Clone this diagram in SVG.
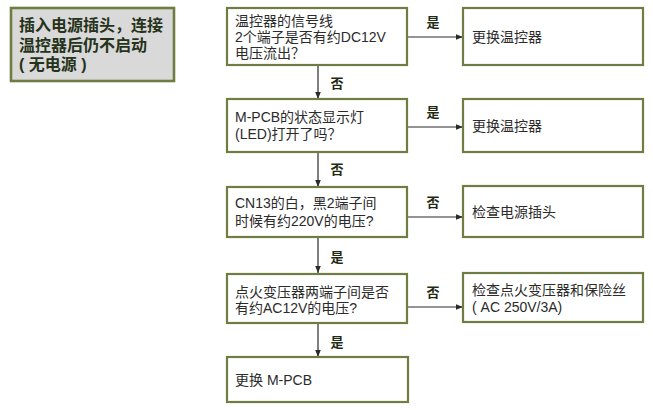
<svg xmlns="http://www.w3.org/2000/svg" width="653" height="410" viewBox="0 0 653 410">
<style>
.box{fill:#ffffff;stroke:#6f7d42;stroke-width:2.2}
.start{fill:#d9d9d9;stroke:#6f7d42;stroke-width:2.6}
.t{font-family:"Liberation Sans","Noto Sans CJK SC",sans-serif;font-size:14px;fill:#2b2b2b}
.ts{font-family:"Liberation Sans","Noto Sans CJK SC",sans-serif;font-size:16px;font-weight:bold;fill:#26331a}
.lbl{font-family:"Liberation Sans","Noto Sans CJK SC",sans-serif;font-size:13px;font-weight:bold;fill:#1f2a12;text-anchor:middle}
.c{stroke:#2b2b2b;stroke-width:1.2;fill:none;marker-end:url(#ah)}
</style>
<defs>
<marker id="ah" viewBox="0 0 10 10" refX="10" refY="5" markerWidth="7" markerHeight="7" markerUnits="userSpaceOnUse" orient="auto">
<path d="M0,1 L10,5 L0,9 z" fill="#2b2b2b"/>
</marker>
</defs>
<rect width="653" height="410" fill="#ffffff"/>
<g id="start">
<rect class="start" x="11" y="8" width="163" height="73"/>
<text class="ts" x="19" y="31">插入电源插头，连接<tspan x="19" dy="20">温控器后仍不启动</tspan><tspan x="19" dy="19">( 无电源 )</tspan></text>
</g>
<g id="connectors">
<line class="c" x1="407" y1="37" x2="463" y2="37"/>
<line class="c" x1="318" y1="65" x2="318" y2="99"/>
<line class="c" x1="407" y1="127" x2="463" y2="127"/>
<line class="c" x1="318" y1="152" x2="318" y2="187"/>
<line class="c" x1="407" y1="217" x2="463" y2="217"/>
<line class="c" x1="318" y1="237" x2="318" y2="273"/>
<line class="c" x1="407" y1="307" x2="463" y2="307"/>
<line class="c" x1="318" y1="323" x2="318" y2="357"/>
<text class="lbl" x="433" y="27">是</text>
<text class="lbl" x="337" y="88">否</text>
<text class="lbl" x="433" y="117">是</text>
<text class="lbl" x="337" y="174">否</text>
<text class="lbl" x="433" y="207">否</text>
<text class="lbl" x="337" y="262">是</text>
<text class="lbl" x="433" y="297">否</text>
<text class="lbl" x="337" y="347">是</text>
</g>
<g id="q1">
<rect class="box" x="227" y="8" width="180" height="57"/>
<text class="t" x="235" y="26">温控器的信号线<tspan x="235" dy="16">2个端子是否有约DC12V</tspan><tspan x="235" dy="16">电压流出？</tspan></text>
</g>
<g id="a1">
<rect class="box" x="463" y="8" width="180" height="57"/>
<text class="t" x="472" y="42">更换温控器</text>
</g>
<g id="q2">
<rect class="box" x="227" y="99" width="180" height="53"/>
<text class="t" x="235" y="122">M-PCB的状态显示灯<tspan x="235" dy="17">(LED)打开了吗？</tspan></text>
</g>
<g id="a2">
<rect class="box" x="463" y="99" width="180" height="53"/>
<text class="t" x="472" y="131">更换温控器</text>
</g>
<g id="q3">
<rect class="box" x="227" y="187" width="180" height="50"/>
<text class="t" x="235" y="208">CN13的白，黑2端子间<tspan x="235" dy="18">时候有约220V的电压?</tspan></text>
</g>
<g id="a3">
<rect class="box" x="463" y="186" width="180" height="51"/>
<text class="t" x="472" y="217">检查电源插头</text>
</g>
<g id="q4">
<rect class="box" x="227" y="274" width="180" height="49"/>
<text class="t" x="235" y="297">点火变压器两端子间是否<tspan x="235" dy="16">有约AC12V的电压?</tspan></text>
</g>
<g id="a4">
<rect class="box" x="463" y="273" width="180" height="49"/>
<text class="t" x="472" y="295">检查点火变压器和保险丝<tspan x="472" dy="17">( AC 250V/3A)</tspan></text>
</g>
<g id="end">
<rect class="box" x="227" y="357" width="181" height="45"/>
<text class="t" x="235" y="385">更换 M-PCB</text>
</g>
</svg>
